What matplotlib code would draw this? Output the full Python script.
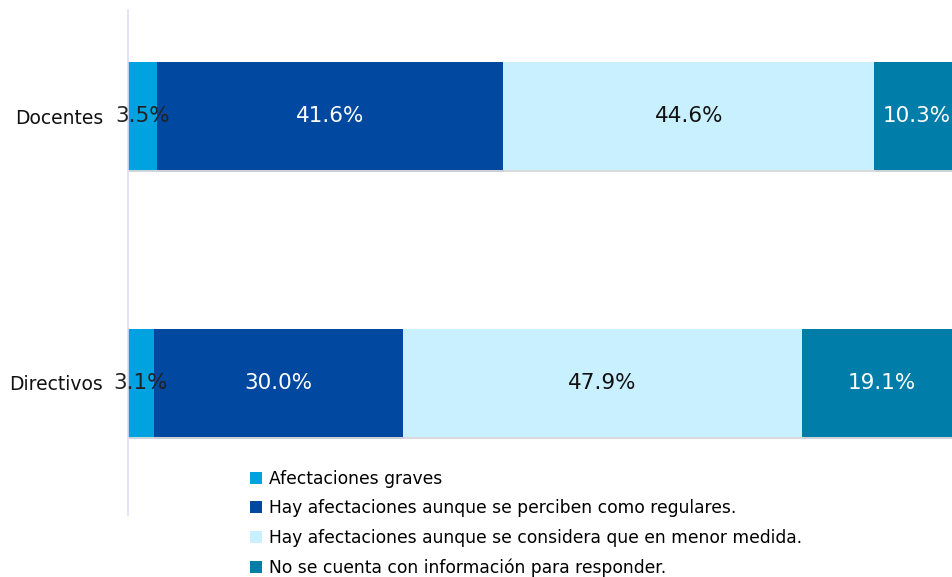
import matplotlib
matplotlib.use("Agg")
import matplotlib.pyplot as plt
import matplotlib.patheffects as pe

categories = ["Directivos", "Docentes"]
series_names = [
    "Afectaciones graves",
    "Hay afectaciones aunque se perciben como regulares.",
    "Hay afectaciones aunque se considera que en menor medida.",
    "No se cuenta con información para responder.",
]
values = {
    series_names[0]: [3.1, 3.5],
    series_names[1]: [30.0, 41.6],
    series_names[2]: [47.9, 44.6],
    series_names[3]: [19.1, 10.3],
}
colors = ["#00A3E0", "#0048A0", "#C8F0FF", "#007DA8"]
text_colors = ["#222222", "white", "#111111", "white"]

plt.rcParams["font.family"] = ["DejaVu Sans"]

fig = plt.figure(figsize=(9.53, 5.77), dpi=100)
ax = fig.add_axes([128 / 953, 1 - 515 / 577, 832 / 953, 505 / 577])

y = list(range(len(categories)))
left = [0.0] * len(categories)
handles = []
for i, name in enumerate(series_names):
    vals = values[name]
    bars = ax.barh(y, vals, left=left, height=0.405, color=colors[i], label=name,
                   path_effects=[pe.SimplePatchShadow(offset=(0.5, -1.5), alpha=0.2), pe.Normal()])
    handles.append(bars)
    for j, v in enumerate(vals):
        ax.text(left[j] + v / 2, y[j], f"{v:.1f}%", ha="center", va="center",
                fontsize=15.5, color=text_colors[i])
    left = [l + v for l, v in zip(left, vals)]

ax.set_xlim(0, 100)
ax.set_ylim(-0.497, 1.398)
ax.set_yticks(y)
ax.set_yticklabels(categories, fontsize=13.5, color="#111111")
ax.tick_params(axis="y", length=0, pad=18)
ax.set_xticks([])
for s in ["top", "right", "bottom"]:
    ax.spines[s].set_visible(False)
ax.spines["left"].set_color("#E4DAF7")
ax.spines["left"].set_linewidth(1.2)

leg = fig.legend(handles=handles, labels=series_names, loc="upper left",
                 bbox_to_anchor=(243 / 953, 1 - 463 / 577), frameon=False,
                 fontsize=12.3, handlelength=0.7, handleheight=0.7,
                 handletextpad=0.45, labelspacing=0.68, borderaxespad=0)
for h in leg.legend_handles:
    h.set_path_effects([])

fig.savefig("out.png", dpi=100)
